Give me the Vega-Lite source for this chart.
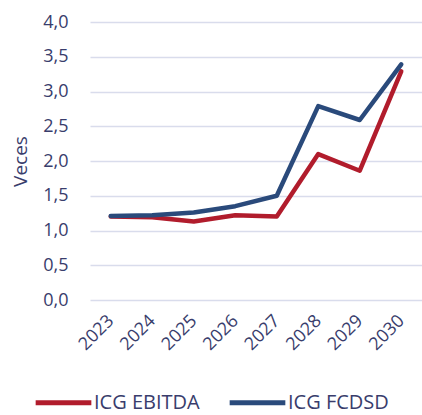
{
  "$schema": "https://vega.github.io/schema/vega-lite/v6.json",
  "width": 332,
  "height": 278,
  "autosize": {"type": "none"},
  "padding": {"left": 90, "top": 22, "right": 0, "bottom": 115},
  "background": "white",
  "config": {
    "font": "Open Sans",
    "view": {"stroke": null},
    "axis": {"labelColor": "#393d6c", "titleColor": "#393d6c", "labelFont": "Open Sans", "titleFont": "Open Sans"}
  },
  "data": {
    "values": [
      {"year": "2023", "serie": "ICG EBITDA", "value": 1.20},
      {"year": "2024", "serie": "ICG EBITDA", "value": 1.19},
      {"year": "2025", "serie": "ICG EBITDA", "value": 1.13},
      {"year": "2026", "serie": "ICG EBITDA", "value": 1.22},
      {"year": "2027", "serie": "ICG EBITDA", "value": 1.20},
      {"year": "2028", "serie": "ICG EBITDA", "value": 2.10},
      {"year": "2029", "serie": "ICG EBITDA", "value": 1.86},
      {"year": "2030", "serie": "ICG EBITDA", "value": 3.29},
      {"year": "2023", "serie": "ICG FCDSD", "value": 1.21},
      {"year": "2024", "serie": "ICG FCDSD", "value": 1.22},
      {"year": "2025", "serie": "ICG FCDSD", "value": 1.26},
      {"year": "2026", "serie": "ICG FCDSD", "value": 1.35},
      {"year": "2027", "serie": "ICG FCDSD", "value": 1.50},
      {"year": "2028", "serie": "ICG FCDSD", "value": 2.79},
      {"year": "2029", "serie": "ICG FCDSD", "value": 2.59},
      {"year": "2030", "serie": "ICG FCDSD", "value": 3.39}
    ]
  },
  "mark": {"type": "line", "strokeWidth": 4.5, "strokeCap": "round", "strokeJoin": "round"},
  "encoding": {
    "x": {
      "field": "year", "type": "ordinal",
      "scale": {"type": "point", "padding": 0.5},
      "axis": {"title": null, "labelAngle": -45, "labelAlign": "right", "labelBaseline": "middle", "labelPadding": 18, "labelFontSize": 18, "domain": false, "ticks": false, "grid": false}
    },
    "y": {
      "field": "value", "type": "quantitative",
      "scale": {"domain": [0, 4]},
      "axis": {"title": "Veces", "titleFontSize": 19, "titleFontWeight": "normal", "titlePadding": 12, "values": [0, 0.5, 1, 1.5, 2, 2.5, 3, 3.5, 4], "labelExpr": "replace(format(datum.value, '.1f'), '.', ',')", "labelFontSize": 18, "labelPadding": 22, "domain": false, "ticks": false, "grid": true, "gridColor": "#d9dcec", "gridWidth": 1.5}
    },
    "color": {
      "field": "serie", "type": "nominal",
      "scale": {"domain": ["ICG EBITDA", "ICG FCDSD"], "range": ["#b11c2c", "#2a4a7b"]},
      "legend": {"title": null, "orient": "none", "legendX": -57, "legendY": 350, "direction": "horizontal", "symbolType": "stroke", "symbolSize": 3100, "symbolStrokeWidth": 5, "labelFontSize": 20, "labelColor": "#393d6c", "labelFont": "Open Sans", "columnPadding": 19, "labelOffset": 0}
    }
  }
}
